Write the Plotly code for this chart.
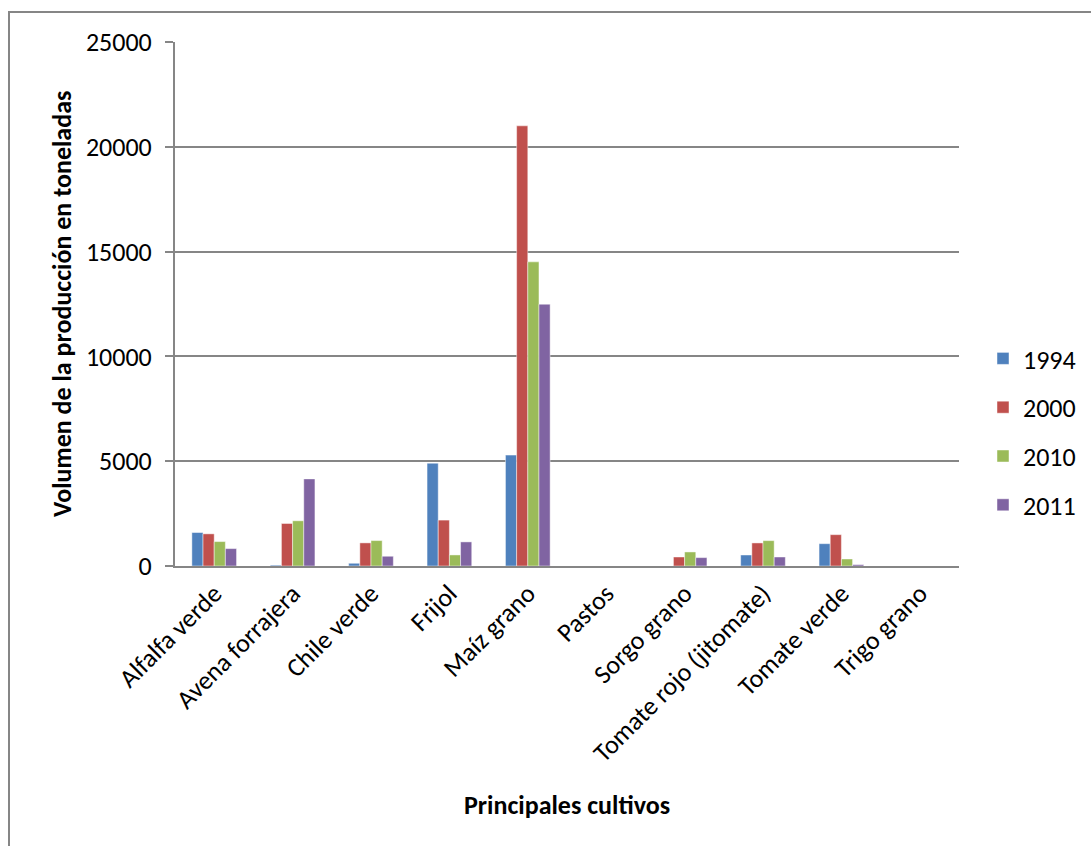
import plotly.graph_objects as go

categories = ["Alfalfa verde", "Avena forrajera", "Chile verde", "Frijol", "Maíz grano",
              "Pastos", "Sorgo grano", "Tomate rojo (jitomate)", "Tomate verde", "Trigo grano"]
years = ["1994", "2000", "2010", "2011"]
v1994 = [1597, 40, 130, 4904, 5290, 0, 0, 525, 1065, 0]
v2000 = [1534, 2028, 1103, 2190, 21000, 0, 430, 1100, 1495, 0]
v2010 = [1165, 2157, 1213, 527, 14510, 0, 670, 1210, 335, 0]
v2011 = [830, 4156, 465, 1150, 12490, 0, 400, 430, 65, 0]
series = [v1994, v2000, v2010, v2011]
colors = ["#4F81BD", "#C0504D", "#9BBB59", "#8064A2"]
y_ticks = [0, 5000, 10000, 15000, 20000, 25000]

FONT = "Carlito, Calibri, Lato, sans-serif"
FS = 26
W, H = 1091, 846
L, R, T, B = 175, 132, 42, 280
pw, ph = W - L - R, H - T - B

def px_x(x):
    return (x - L) / pw

def px_y(y):
    return (H - B - y) / ph

fig = go.Figure()
for name, vals, c in zip(years, series, colors):
    fig.add_trace(go.Bar(
        x=categories, y=vals, name=name, legendgroup=name,
        marker=dict(color=c, line=dict(color="rgba(255,255,255,0.45)", width=1)),
    ))

fig.update_layout(
    width=W, height=H,
    margin=dict(l=L, r=R, t=T, b=B, autoexpand=False),
    paper_bgcolor="white", plot_bgcolor="white",
    font=dict(family=FONT, size=FS, color="black"),
    barmode="group", bargap=0.43, bargroupgap=0,
    legend=dict(
        x=px_x(983), xanchor="left", y=px_y(432), yanchor="middle",
        font=dict(family=FONT, size=FS), tracegroupgap=12,
        bgcolor="rgba(0,0,0,0)",
    ),
    xaxis=dict(
        tickangle=-45, showline=True, linecolor="#868686", linewidth=2,
        ticks="", showgrid=False, tickfont=dict(size=FS),
    ),
    yaxis=dict(
        range=[0, 25000], tickvals=y_ticks, ticktext=[str(v) for v in y_ticks],
        showline=True, linecolor="#868686", linewidth=2,
        ticks="outside", ticklen=8, tickcolor="#868686", tickwidth=2,
        ticklabelstandoff=8,
        showgrid=True, gridcolor="#868686", gridwidth=2,
        zeroline=False, tickfont=dict(size=FS),
    ),
    annotations=[
        dict(text="<b>Volumen de la producción en toneladas</b>", xref="paper", yref="paper",
             x=px_x(62), y=px_y(304), textangle=-90, showarrow=False,
             xanchor="center", yanchor="middle", font=dict(size=FS)),
        dict(text="<b>Principales cultivos</b>", xref="paper", yref="paper",
             x=px_x(567), y=px_y(805), showarrow=False,
             xanchor="center", yanchor="middle", font=dict(size=FS)),
    ],
    shapes=[
        dict(type="rect", xref="paper", yref="paper",
             x0=px_x(9), x1=px_x(1110), y0=px_y(12), y1=px_y(870),
             line=dict(color="#868686", width=2), fillcolor="rgba(0,0,0,0)", layer="below"),
    ],
)

fig.write_html("out.html")
